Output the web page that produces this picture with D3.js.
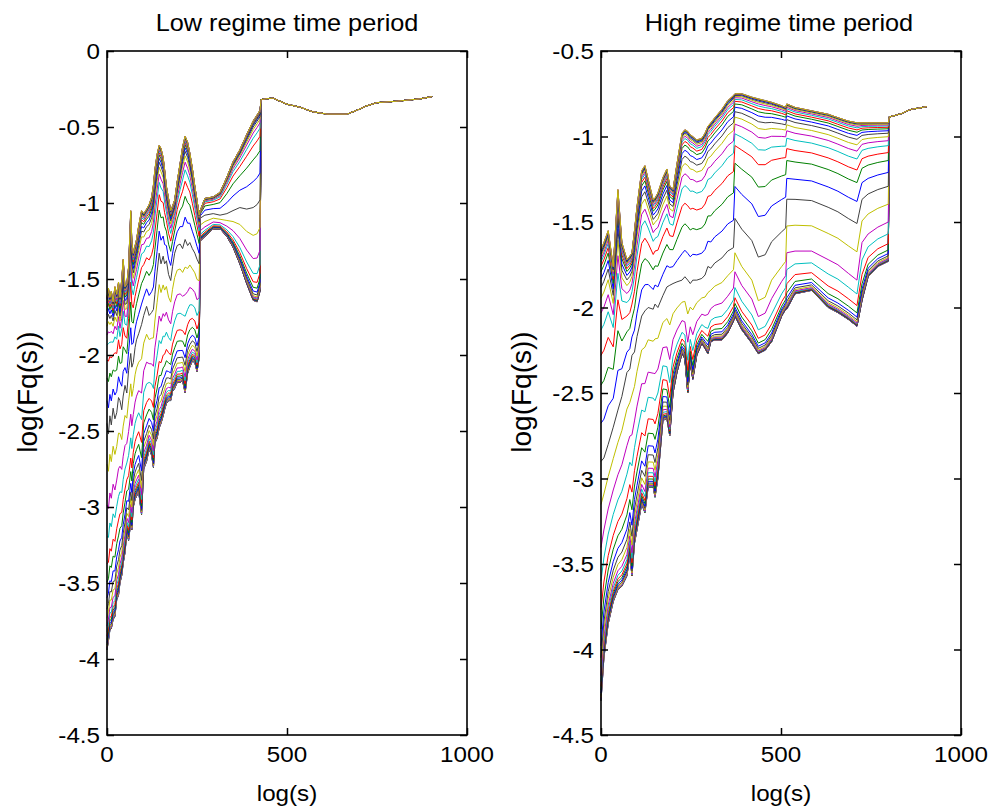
<!DOCTYPE html>
<html>
<head>
<meta charset="utf-8">
<script src="https://cdnjs.cloudflare.com/ajax/libs/d3/7.8.5/d3.min.js"></script>
<style>
body { margin: 0; background: #fff; }
text { font-family: "Liberation Sans", Arial, Helvetica, sans-serif; fill: #000; }
</style>
</head>
<body>
<svg id="fig" width="990" height="808"></svg>
<script>
// matlab default colour order, one colour per q, cycling
var lineColors = ["#0000ff", "#008000", "#ff0000", "#00bfbf", "#bf00bf", "#bfbf00", "#404040"];
var qCount = 41; // q = -10 : 0.5 : 10, the q = 0 curve is rank 20

// where a rank sits between the q=0 curve (0) and the envelope (1), by distance from rank 20
var weightsNear = [0, 0.18, 0.36, 0.50, 0.62, 0.70, 0.77, 0.82, 0.86, 0.895, 0.92, 0.94, 0.955, 0.968, 0.978, 0.986, 0.992, 0.996, 0.998, 1, 1];
var weightsFar  = [0, 0.30, 0.55, 0.71, 0.80, 0.86, 0.90, 0.93, 0.95, 0.963, 0.973, 0.981, 0.987, 0.991, 0.994, 0.996, 0.998, 0.999, 1, 1, 1];

var xTicks = [0, 500, 1000];
var xTickLabels = ["0", "500", "1000"];

// ---- low regime panel: upper envelope, q=0 curve, lower envelope
var lowS   = [0, 4, 8, 12, 17, 22, 27, 32, 36, 41, 45, 50, 55, 60, 66, 69, 73, 78, 82, 88, 96, 102, 110, 117, 124, 129, 133, 139, 145, 150, 156, 160, 165, 171, 177, 182, 188, 195, 203, 210, 217, 224, 230, 237, 244, 250, 256, 259, 272, 295, 314, 333, 350, 369, 388, 406, 417, 425];
var lowTop = [-1.62, -1.56, -1.62, -1.58, -1.65, -1.55, -1.60, -1.52, -1.62, -1.50, -1.37, -1.55, -1.53, -1.42, -1.05, -1.25, -1.33, -1.28, -1.24, -1.15, -1.05, -1.07, -1.04, -1.01, -0.96, -0.88, -0.78, -0.68, -0.62, -0.64, -0.70, -0.78, -0.89, -0.97, -1.05, -1.02, -0.98, -0.86, -0.74, -0.63, -0.56, -0.60, -0.67, -0.77, -0.89, -0.98, -1.08, -1.05, -0.97, -0.96, -0.93, -0.83, -0.73, -0.65, -0.55, -0.46, -0.42, -0.39];
var lowMid = [-2.45, -2.52, -2.40, -2.46, -2.35, -2.42, -2.38, -2.28, -2.30, -2.36, -2.27, -2.20, -2.25, -2.10, -1.99, -2.08, -2.05, -1.95, -1.90, -1.86, -1.80, -1.74, -1.68, -1.74, -1.72, -1.70, -1.60, -1.46, -1.33, -1.40, -1.35, -1.40, -1.38, -1.47, -1.51, -1.42, -1.33, -1.28, -1.27, -1.30, -1.24, -1.28, -1.26, -1.30, -1.33, -1.37, -1.40, -1.10, -1.08, -1.07, -1.08, -1.07, -1.05, -1.03, -1.04, -1.03, -1.01, -0.98];
var lowBot = [-3.94, -3.88, -3.81, -3.80, -3.74, -3.72, -3.61, -3.58, -3.50, -3.45, -3.37, -3.30, -3.17, -3.22, -3.10, -3.15, -3.00, -2.95, -2.93, -2.90, -3.05, -2.75, -2.70, -2.62, -2.66, -2.74, -2.58, -2.55, -2.48, -2.45, -2.40, -2.36, -2.32, -2.30, -2.30, -2.24, -2.22, -2.18, -2.18, -2.17, -2.25, -2.12, -2.08, -2.04, -2.05, -2.11, -2.02, -1.25, -1.22, -1.17, -1.17, -1.22, -1.29, -1.40, -1.53, -1.64, -1.65, -1.58];
// [from s, mix] : 0 = near spacing, 1 = far spacing
var lowMixUp = [[0, 0], [145, 0.2], [177, 0.3], [259, 1]];
var lowMixDn = [[0, 0], [259, 1]];
var lowShift = [[0, 0]];
// past the last scale every q gives the same value
var lowTailS = [428, 440, 461, 480, 500, 536, 572, 611, 667, 694, 722, 750, 806, 869, 903];
var lowTailV = [-0.32, -0.315, -0.31, -0.33, -0.35, -0.37, -0.40, -0.415, -0.415, -0.39, -0.36, -0.34, -0.33, -0.315, -0.30];
var lowYTicks = [0, -0.5, -1, -1.5, -2, -2.5, -3, -3.5, -4, -4.5];
var lowYTickLabels = ["0", "-0.5", "-1", "-1.5", "-2", "-2.5", "-3", "-3.5", "-4", "-4.5"];

// ---- high regime panel
var highS   = [0, 8, 20, 34, 47, 58, 72, 80, 86, 93, 100, 113, 122, 131, 145, 150, 158, 172, 183, 191, 200, 211, 225, 233, 241, 248, 255, 266, 280, 289, 297, 305, 316, 336, 352, 368, 372, 391, 419, 437, 456, 474, 502, 513, 516, 539, 585, 631, 658, 687, 711, 725, 742, 769, 798];
var highTop = [-1.66, -1.62, -1.55, -1.76, -1.31, -1.62, -1.72, -1.70, -1.68, -1.55, -1.41, -1.20, -1.17, -1.25, -1.37, -1.36, -1.33, -1.24, -1.19, -1.29, -1.31, -1.16, -0.98, -0.96, -0.97, -0.99, -1.00, -1.02, -1.01, -0.98, -0.94, -0.92, -0.89, -0.84, -0.79, -0.76, -0.75, -0.75, -0.77, -0.78, -0.79, -0.80, -0.82, -0.83, -0.81, -0.83, -0.85, -0.87, -0.89, -0.91, -0.92, -0.92, -0.92, -0.92, -0.92];
var highMid = [-2.90, -2.88, -2.80, -2.70, -2.60, -2.52, -2.38, -2.36, -2.28, -2.26, -2.17, -2.05, -2.02, -2.00, -2.01, -1.98, -2.00, -1.93, -1.88, -1.87, -1.86, -1.85, -1.84, -1.82, -1.84, -1.86, -1.84, -1.84, -1.83, -1.81, -1.76, -1.77, -1.74, -1.71, -1.67, -1.65, -1.68, -1.76, -1.84, -1.96, -1.94, -1.84, -1.76, -1.73, -1.68, -1.67, -1.67, -1.72, -1.75, -1.80, -1.84, -1.62, -1.57, -1.53, -1.50];
var highBot = [-4.30, -4.05, -3.85, -3.72, -3.65, -3.63, -3.57, -3.45, -3.57, -3.38, -3.30, -3.15, -3.20, -3.05, -3.05, -3.11, -3.00, -2.66, -2.65, -2.75, -2.50, -2.38, -2.27, -2.30, -2.50, -2.32, -2.42, -2.28, -2.21, -2.24, -2.27, -2.20, -2.19, -2.19, -2.15, -2.08, -2.05, -2.13, -2.21, -2.27, -2.25, -2.20, -2.05, -2.01, -2.01, -1.92, -1.90, -2.00, -2.03, -2.07, -2.11, -1.96, -1.82, -1.76, -1.73];
var highMixUp = [[0, 0], [372, 0.3], [516, 0]];
var highMixDn = [[0, 0], [172, 0.3], [183, 0.5], [191, 0.7], [200, 0.8], [211, 0.9], [225, 1]];
// curves move up one rank at s = 372 and again at s = 516
var highShift = [[0, 0], [372, 1], [516, 2]];
var highTailS = [801, 820, 836, 850, 864, 880, 905];
var highTailV = [-0.885, -0.875, -0.865, -0.85, -0.84, -0.835, -0.825];
var highYTicks = [-0.5, -1, -1.5, -2, -2.5, -3, -3.5, -4, -4.5];
var highYTickLabels = ["-0.5", "-1", "-1.5", "-2", "-2.5", "-3", "-3.5", "-4", "-4.5"];

var svg = d3.select("#fig");
var textStretch = 1.1;

// look up a [from s, value] list
function stepValue(list, s){
    var v = list[0][1];
    list.forEach(function(e){ if (s >= e[0]) v = e[1]; });
    return v;
}

// value of a given rank at grid point j
function rankValue(p, r, j){
    if (r > qCount - 1) r = qCount - 1;
    var s = p.s[j];
    var d = Math.abs(r - 20);
    if (r >= 20){
        var m = stepValue(p.mixUp, s);
        var w = weightsNear[d] * (1 - m) + weightsFar[d] * m;
        return p.mid[j] + (p.top[j] - p.mid[j]) * w;
    } else {
        var m2 = stepValue(p.mixDn, s);
        var w2 = weightsNear[d] * (1 - m2) + weightsFar[d] * m2;
        return p.mid[j] - (p.mid[j] - p.bot[j]) * w2;
    }
}

function stretchedText(g, x, y, str, size, anchor){
    return g.append("text")
        .attr("transform", "translate(" + x + "," + y + ") scale(" + textStretch + ",1)")
        .attr("text-anchor", anchor)
        .style("font-size", size + "px")
        .text(str);
}

function drawPanel(p){
    var x = d3.scaleLinear().domain([0, 1000]).range([p.left, p.right]);
    var y = d3.scaleLinear().domain(p.yDomain).range([735, 51]);
    var g = svg.append("g");

    var line = d3.line()
        .x(function(d){ return x(d[0]); })
        .y(function(d){ return y(d[1]); });

    for (var i = 0; i < qCount; i++){
        var pts = [];
        for (var j = 0; j < p.s.length; j++){
            pts.push([p.s[j], rankValue(p, i + stepValue(p.shift, p.s[j]), j)]);
        }
        for (var k = 0; k < p.tailS.length; k++){
            pts.push([p.tailS[k], p.tailV[k]]);
        }
        g.append("path")
            .attr("d", line(pts))
            .attr("fill", "none")
            .attr("stroke", lineColors[i % lineColors.length])
            .attr("stroke-width", 1);
    }

    // box with inward ticks on all four sides
    var tickLen = 7;
    g.append("g").attr("transform", "translate(0,735)")
        .call(d3.axisBottom(x).tickValues(xTicks).tickSize(-tickLen).tickSizeOuter(0).tickFormat(""));
    g.append("g").attr("transform", "translate(0,51)")
        .call(d3.axisTop(x).tickValues(xTicks).tickSize(-tickLen).tickSizeOuter(0).tickFormat(""));
    g.append("g").attr("transform", "translate(" + p.left + ",0)")
        .call(d3.axisLeft(y).tickValues(p.yTicks).tickSize(-tickLen).tickSizeOuter(0).tickFormat(""));
    g.append("g").attr("transform", "translate(" + p.right + ",0)")
        .call(d3.axisRight(y).tickValues(p.yTicks).tickSize(-tickLen).tickSizeOuter(0).tickFormat(""));
    g.selectAll(".domain").remove();
    g.selectAll(".tick line").attr("stroke", "#000").attr("stroke-width", 1.5);
    g.append("rect")
        .attr("x", p.left).attr("y", 51)
        .attr("width", p.right - p.left).attr("height", 684)
        .attr("fill", "none").attr("stroke", "#000").attr("stroke-width", 1.6);

    xTicks.forEach(function(t, n){
        stretchedText(g, x(t), 762, xTickLabels[n], 22, "middle");
    });
    p.yTicks.forEach(function(t, n){
        stretchedText(g, p.left - 7, y(t) + 8, p.yTickLabels[n], 22, "end");
    });

    stretchedText(g, (p.left + p.right) / 2 + p.titleShift, 31, p.title, 23, "middle");
    stretchedText(g, (p.left + p.right) / 2, 801, "log(s)", 22, "middle");
    g.append("text")
        .attr("transform", "translate(" + p.yLabelX + ",392) rotate(-90)")
        .attr("text-anchor", "middle")
        .style("font-size", "28px")
        .text("log(Fq(s))");
}

drawPanel({
    left: 107, right: 467, yDomain: [-4.5, 0],
    s: lowS, top: lowTop, mid: lowMid, bot: lowBot,
    mixUp: lowMixUp, mixDn: lowMixDn, shift: lowShift,
    tailS: lowTailS, tailV: lowTailV,
    yTicks: lowYTicks, yTickLabels: lowYTickLabels,
    title: "Low regime time period", titleShift: 0, yLabelX: 37
});
drawPanel({
    left: 601, right: 961, yDomain: [-4.5, -0.5],
    s: highS, top: highTop, mid: highMid, bot: highBot,
    mixUp: highMixUp, mixDn: highMixDn, shift: highShift,
    tailS: highTailS, tailV: highTailV,
    yTicks: highYTicks, yTickLabels: highYTickLabels,
    title: "High regime time period", titleShift: -2, yLabelX: 531
});
</script>
</body>
</html>
